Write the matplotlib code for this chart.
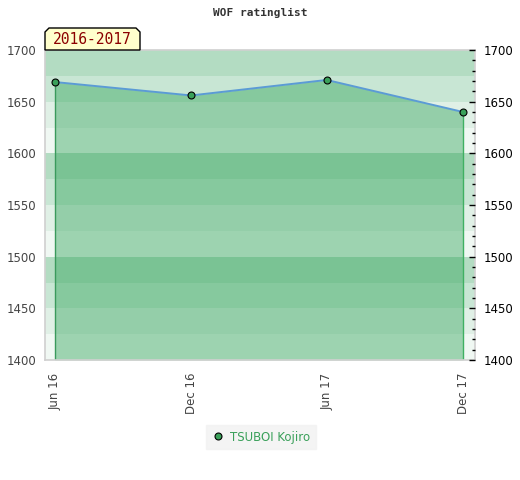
import numpy as np
import matplotlib
matplotlib.use("Agg")
import matplotlib.pyplot as plt
import matplotlib.dates as mdates
from matplotlib.patches import Polygon
from matplotlib.lines import Line2D

# Data
dates = np.array(["2016-06-01", "2016-12-01", "2017-06-01", "2017-12-01"], dtype="datetime64[D]")
ratings = [1669, 1656, 1671, 1640]
player = "TSUBOI Kojiro"
season = "2016-2017"
title = "WOF ratinglist"

Y_MIN, Y_MAX = 1400, 1700
BAND = 25
band_colors = ["#f0f8f3", "#e0f0e6", "#c8e6d4", "#b3dcc2"]

W, H = 520, 480


def px(x, y):
    # pixel (from top-left) to figure fraction
    return x / W, 1 - y / H


fig = plt.figure(figsize=(W / 100, H / 100), dpi=100)
ax = fig.add_axes([45 / W, 1 - 360 / H, 430 / W, 310 / H])

# background stripes
for i, lo in enumerate(range(Y_MIN, Y_MAX, BAND)):
    ax.axhspan(lo, lo + BAND, color=band_colors[i % 4], lw=0, zorder=0)

x = mdates.date2num(dates)
ax.fill_between(x, ratings, Y_MIN, color="#33a45b", alpha=0.44, lw=0, zorder=1)
ax.vlines(x[0], Y_MIN, ratings[0], color="#3a9a5c", lw=1, zorder=2)
ax.vlines(x[-1], Y_MIN, ratings[-1], color="#3fb062", lw=1, zorder=2)
ax.plot(x, ratings, color="#5b9bd5", lw=1.4, zorder=3)
ax.plot(x, ratings, "o", ms=5, mfc="#3aa05a", mec="black", mew=0.8, zorder=4)

ax.set_xlim(x[0] - 13, x[-1] + 16)
ax.set_ylim(Y_MIN, Y_MAX)
ax.set_xticks(x)
ax.xaxis.set_major_formatter(mdates.DateFormatter("%b %y"))
ax.tick_params(axis="x", length=0, pad=9, labelrotation=90, labelsize=8.5, labelcolor="#444444")
ax.set_yticks(range(Y_MIN, Y_MAX + 1, 50))
ax.tick_params(axis="y", length=0, pad=6, labelsize=8.5, labelcolor="#444444")

for s in ax.spines.values():
    s.set_color("#d0d0d0")
    s.set_linewidth(1.2)

# right axis with ticks every 10
ax2 = ax.twinx()
ax2.set_ylim(Y_MIN, Y_MAX)
ax2.set_yticks(range(Y_MIN, Y_MAX + 1, 50))
ax2.set_yticks(range(Y_MIN, Y_MAX + 1, 10), minor=True)
ax2.tick_params(axis="y", which="major", direction="in", length=4, width=1, pad=6,
                labelsize=8.5, labelcolor="black", color="black")
ax2.tick_params(axis="y", which="minor", direction="in", length=2.5, width=1, color="black")
for s in ax2.spines.values():
    s.set_visible(False)

# title
fig.text(*px(260, 13), title, ha="center", va="center", fontsize=8,
         family="DejaVu Sans Mono", fontweight="bold", color="#333333")

# season label box
box = Polygon([px(45, 50), px(45, 32), px(49, 28), px(136, 28), px(140, 32), px(140, 50)],
              closed=True, transform=fig.transFigure, facecolor="#ffffcc",
              edgecolor="black", lw=1, zorder=5)
fig.patches.append(box)
fig.text(*px(92.5, 40), season, ha="center", va="center", fontsize=10.5,
         family="DejaVu Sans Mono", color="#8b0000", zorder=6)

# legend
handle = Line2D([], [], ls="none", marker="o", ms=5, mfc="#3aa05a", mec="black", mew=0.8)
leg = fig.legend([handle], [player], loc="center", bbox_to_anchor=px(261, 437),
                 frameon=True, fontsize=8.5, handlelength=1, handletextpad=0.5,
                 borderpad=0.5, fancybox=False)
leg.get_frame().set_facecolor("#f2f2f2")
leg.get_frame().set_edgecolor("#f2f2f2")
for t in leg.get_texts():
    t.set_color("#3aa05a")

fig.savefig("out.png", dpi=100)
